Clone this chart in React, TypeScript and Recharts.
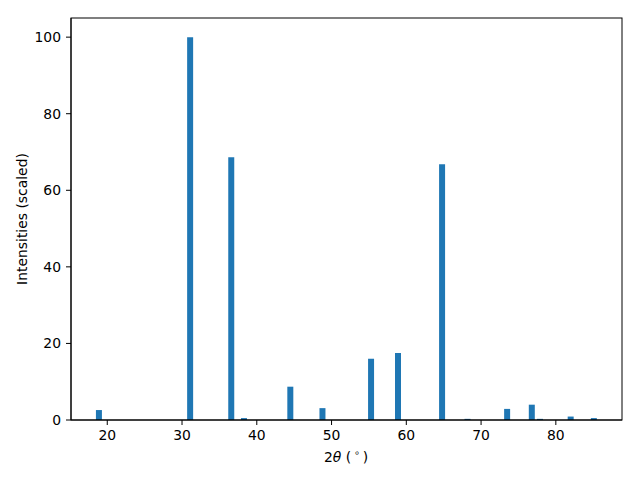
import React from "react";
import { BarChart, Bar, XAxis, YAxis } from "recharts";

// 2-theta peak positions (degrees) and scaled intensities
const twoTheta = [18.9, 31.1, 36.6, 38.3, 44.5, 48.8, 55.3, 58.9, 64.8, 68.2, 73.5, 76.8, 77.9, 82.0, 85.1];
const intensity = [2.6, 100, 68.6, 0.5, 8.7, 3.1, 16.0, 17.5, 66.8, 0.3, 2.9, 4.0, 0.3, 0.9, 0.5];

const xTicks = [20, 30, 40, 50, 60, 70, 80];
const yTicks = [0, 20, 40, 60, 80, 100];

const data = twoTheta.map((x, i) => ({ x, y: intensity[i] }));

const FONT = "DejaVu Sans";
const tickStyle = { fill: "#000", fontSize: 13.9, fontFamily: FONT };

export default function App() {
  return (
    <div style={{ width: 640, height: 480, position: "relative" }}>
      <style>{"body{margin:0}"}</style>
      <BarChart
        width={640}
        height={480}
        data={data}
        margin={{ top: 18, right: 18, bottom: 0, left: 0 }}
        barSize={6}
      >
        <XAxis
          dataKey="x"
          type="number"
          domain={[15.15, 88.85]}
          ticks={xTicks}
          allowDataOverflow
          height={60}
          tickSize={5}
          tickMargin={5}
          stroke="#000"
          tick={tickStyle}
          axisLine={{ stroke: "#000", strokeWidth: 1 }}
          tickLine={{ stroke: "#000" }}
        />
        <YAxis
          type="number"
          domain={[0, 105]}
          ticks={yTicks}
          allowDataOverflow
          width={71}
          tickSize={5}
          tickMargin={5}
          tick={tickStyle}
          axisLine={{ stroke: "#000", strokeWidth: 1 }}
          tickLine={{ stroke: "#000" }}
        />
        <Bar dataKey="y" fill="#1f77b4" isAnimationActive={false} />
      </BarChart>
      <svg
        width={640}
        height={480}
        style={{ position: "absolute", left: 0, top: 0, pointerEvents: "none" }}
      >
        {/* frame around the plot area (top and right spines) */}
        <rect x={71} y={18} width={551} height={402} fill="none" stroke="#000" strokeWidth={1} />
        <text
          x={346}
          y={462}
          textAnchor="middle"
          fontFamily={FONT}
          fontSize={13.9}
          fill="#000"
        >
          2<tspan fontStyle="italic">θ</tspan> ({"\u2009"}
          <tspan fontSize={9.5} dy={-6}>∘</tspan>
          <tspan dy={6}>{"\u2009"})</tspan>
        </text>
        <text
          x={27}
          y={219}
          transform="rotate(-90 27 219)"
          textAnchor="middle"
          fontFamily={FONT}
          fontSize={13.9}
          fill="#000"
        >
          Intensities (scaled)
        </text>
      </svg>
    </div>
  );
}
